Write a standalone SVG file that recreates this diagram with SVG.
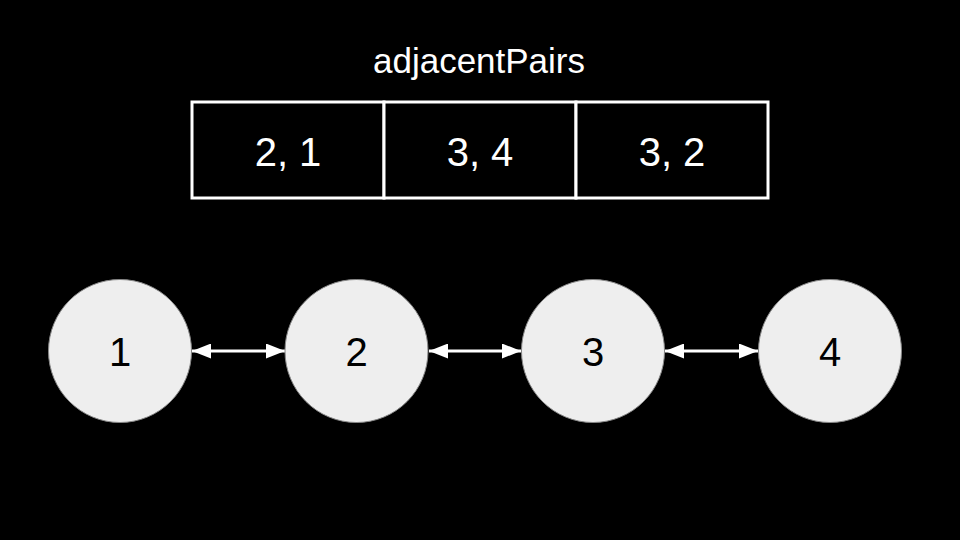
<svg xmlns="http://www.w3.org/2000/svg" width="960" height="540" viewBox="0 0 960 540">
<style>
.t{font-family:"Liberation Sans",Arial,sans-serif;text-anchor:middle}
.cell{fill:#000;stroke:#fff;stroke-width:3}
.node{fill:#eeeeee;stroke:#888;stroke-width:1}
.edge{stroke:#fff;stroke-width:3;fill:none;marker-start:url(#ah);marker-end:url(#ah)}
</style>
<defs>
<marker id="ah" viewBox="0 0 19 15" refX="19" refY="7.5" markerWidth="19" markerHeight="15" markerUnits="userSpaceOnUse" orient="auto-start-reverse">
<path d="M0,0 L19,7.5 L0,15 Z" fill="#fff"/>
</marker>
</defs>
<rect width="960" height="540" fill="#000"/>
<text class="t" x="479" y="73" font-size="35" fill="#fff">adjacentPairs</text>
<g id="table">
<rect class="cell" x="192" y="102" width="192" height="96"/>
<rect class="cell" x="384" y="102" width="192" height="96"/>
<rect class="cell" x="576" y="102" width="192" height="96"/>
<text class="t" x="288" y="166" font-size="40" fill="#fff">2, 1</text>
<text class="t" x="480" y="166" font-size="40" fill="#fff">3, 4</text>
<text class="t" x="672" y="166" font-size="40" fill="#fff">3, 2</text>
</g>
<g id="connectors">
<line class="edge" x1="192" y1="351" x2="285" y2="351"/>
<line class="edge" x1="429" y1="351" x2="521" y2="351"/>
<line class="edge" x1="665" y1="351" x2="758" y2="351"/>
</g>
<g id="n1"><circle class="node" cx="120" cy="351" r="71.5"/><text class="t" x="120" y="366" font-size="40" fill="#000">1</text></g>
<g id="n2"><circle class="node" cx="356.5" cy="351" r="71.5"/><text class="t" x="356.5" y="366" font-size="40" fill="#000">2</text></g>
<g id="n3"><circle class="node" cx="593" cy="351" r="71.5"/><text class="t" x="593" y="366" font-size="40" fill="#000">3</text></g>
<g id="n4"><circle class="node" cx="830" cy="351" r="71.5"/><text class="t" x="830" y="366" font-size="40" fill="#000">4</text></g>
</svg>
